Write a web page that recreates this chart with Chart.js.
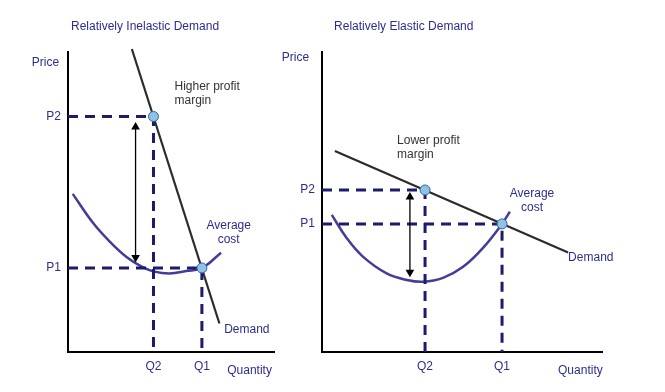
<!DOCTYPE html>
<html>
<head>
<meta charset="utf-8">
<script src="https://cdn.jsdelivr.net/npm/chart.js@4"></script>
<style>
  body { margin: 0; background: #fff; }
  #wrap { position: relative; width: 665px; height: 392px; }
  canvas { position: absolute; top: 0; }
  #leftChart { left: 0; }
  #rightChart { left: 280px; }
</style>
</head>
<body>
<div id="wrap">
  <canvas id="leftChart" width="280" height="392"></canvas>
  <canvas id="rightChart" width="385" height="392"></canvas>
</div>
<script>
// Tick labels (same on both panels)
const qLabels = ['Q2', 'Q1'];
const pLabels = ['P1', 'P2'];

// Left panel: relatively inelastic demand
const inelasticQ = [4.15, 6.5];    // Q2, Q1
const inelasticP = [2.8, 7.85];    // P1, P2
const inelasticDemand = [[3.1, 10.1], [7.35, 0.95]];
const inelasticCost = [[0.23, 5.27], [1.22, 4.3], [2.03, 3.68], [2.84, 3.17], [3.62, 2.83],
  [4.2, 2.68], [4.93, 2.62], [5.73, 2.7], [6.5, 2.8], [7.43, 3.31]];
const inelasticArrow = [3.28, 7.5, 3.15]; // x, top, bottom

// Right panel: relatively elastic demand
const elasticQ = [3.68, 6.43];     // Q2, Q1
const elasticP = [4.27, 5.4];      // P1, P2
const elasticDemand = [[0.46, 6.7], [8.79, 3.32]];
const elasticCost = [[0.35, 4.57], [0.88, 3.8], [1.46, 3.18], [2.31, 2.62], [3.03, 2.4],
  [3.61, 2.34], [4.32, 2.47], [5.04, 2.84], [5.75, 3.47], [6.43, 4.27], [6.71, 4.68]];
const elasticArrow = [3.14, 5.17, 2.66];

const BLUE = '#2d2d8f';
const GREY = '#333333';
const FONT = { family: '"Liberation Sans", Arial, sans-serif', size: 12 };

const toXY = arr => arr.map(([x, y]) => ({ x, y }));

// draws free text at data positions
function notesPlugin(items) {
  return {
    id: 'notes',
    afterDraw(chart) {
      const { ctx, scales: { x, y } } = chart;
      ctx.save();
      ctx.font = '12px ' + FONT.family;
      ctx.textBaseline = 'middle';
      items.forEach(n => {
        ctx.fillStyle = n.color || BLUE;
        ctx.textAlign = n.align || 'left';
        [].concat(n.text).forEach((line, i) => {
          ctx.fillText(line, x.getPixelForValue(n.x), y.getPixelForValue(n.y) + i * 14);
        });
      });
      ctx.restore();
    }
  };
}

function makeChart(id, cfg) {
  const [q2, q1] = cfg.q;
  const [p1, p2] = cfg.p;
  const [ax, aTop, aBottom] = cfg.arrow;
  const line = { showLine: true, pointRadius: 0, clip: false };

  return new Chart(document.getElementById(id), {
    type: 'scatter',
    data: {
      datasets: [
        { data: [{ x: q2, y: p2 }, { x: q1, y: p1 }], pointRadius: 5,
          pointBackgroundColor: '#8fc3e6', pointBorderColor: '#35629e', pointBorderWidth: 1, clip: false },
        { ...line, data: [{ x: ax, y: aTop }, { x: ax, y: aBottom }], borderColor: '#000', borderWidth: 1.3,
          pointRadius: 5, pointStyle: 'triangle', pointRotation: [0, 180],
          pointBackgroundColor: '#000', pointBorderWidth: 0 },
        { ...line, data: [{ x: 0, y: p2 }, { x: q2, y: p2 }, { x: q2, y: 0 }],
          borderColor: '#1c1c6b', borderWidth: 3, borderDash: [10, 7] },
        { ...line, data: [{ x: 0, y: p1 }, { x: q1, y: p1 }, { x: q1, y: 0 }],
          borderColor: '#1c1c6b', borderWidth: 3, borderDash: [10, 7] },
        { ...line, data: toXY(cfg.demand), borderColor: '#2b2b2b', borderWidth: 2.2 },
        { ...line, data: toXY(cfg.cost), borderColor: '#433c99', borderWidth: 2.5, tension: 0.4 }
      ]
    },
    options: {
      responsive: false,
      animation: false,
      events: [],
      layout: { padding: cfg.padding },
      plugins: { legend: { display: false }, tooltip: { enabled: false } },
      scales: {
        x: {
          type: 'linear', min: 0, max: 10,
          grid: { display: false, drawTicks: false },
          border: { display: true, color: '#000', width: 2 },
          afterBuildTicks: s => { s.ticks = cfg.q.map(v => ({ value: v })); },
          afterFit: s => { s.height = 24; },
          ticks: { autoSkip: false, maxRotation: 0, padding: 7, color: BLUE, font: FONT,
            callback: (v, i) => qLabels[i] }
        },
        y: {
          type: 'linear', min: 0, max: 10,
          grid: { display: false, drawTicks: false },
          border: { display: true, color: '#000', width: 2 },
          afterBuildTicks: s => { s.ticks = cfg.p.map(v => ({ value: v })); },
          afterFit: s => { s.width = 30; },
          ticks: { autoSkip: false, padding: 7, color: BLUE, font: FONT,
            callback: (v, i) => pLabels[i] }
        }
      }
    },
    plugins: [notesPlugin(cfg.notes)]
  });
}

makeChart('leftChart', {
  q: inelasticQ, p: inelasticP, demand: inelasticDemand, cost: inelasticCost, arrow: inelasticArrow,
  padding: { left: 38, right: 5, top: 52, bottom: 16 },
  notes: [
    { text: 'Relatively Inelastic Demand', x: 0.145, y: 10.83 },
    { text: 'Price', x: -0.43, y: 9.64, align: 'right' },
    { text: ['Higher profit', 'margin'], x: 5.17, y: 8.83, color: GREY },
    { text: ['Average', 'cost'], x: 7.8, y: 4.2, align: 'center' },
    { text: 'Demand', x: 7.58, y: 0.73 },
    { text: 'Quantity', x: 7.73, y: -0.63 }
  ]
});

makeChart('rightChart', {
  q: elasticQ, p: elasticP, demand: elasticDemand, cost: elasticCost, arrow: elasticArrow,
  padding: { left: 12, right: 63, top: 52, bottom: 16 },
  notes: [
    { text: 'Relatively Elastic Demand', x: 0.43, y: 10.83 },
    { text: 'Price', x: -0.46, y: 9.8, align: 'right' },
    { text: ['Lower profit', 'margin'], x: 2.68, y: 7.03, color: GREY },
    { text: ['Average', 'cost'], x: 7.5, y: 5.27, align: 'center' },
    { text: 'Demand', x: 8.79, y: 3.13 },
    { text: 'Quantity', x: 8.43, y: -0.63 }
  ]
});
</script>
</body>
</html>
